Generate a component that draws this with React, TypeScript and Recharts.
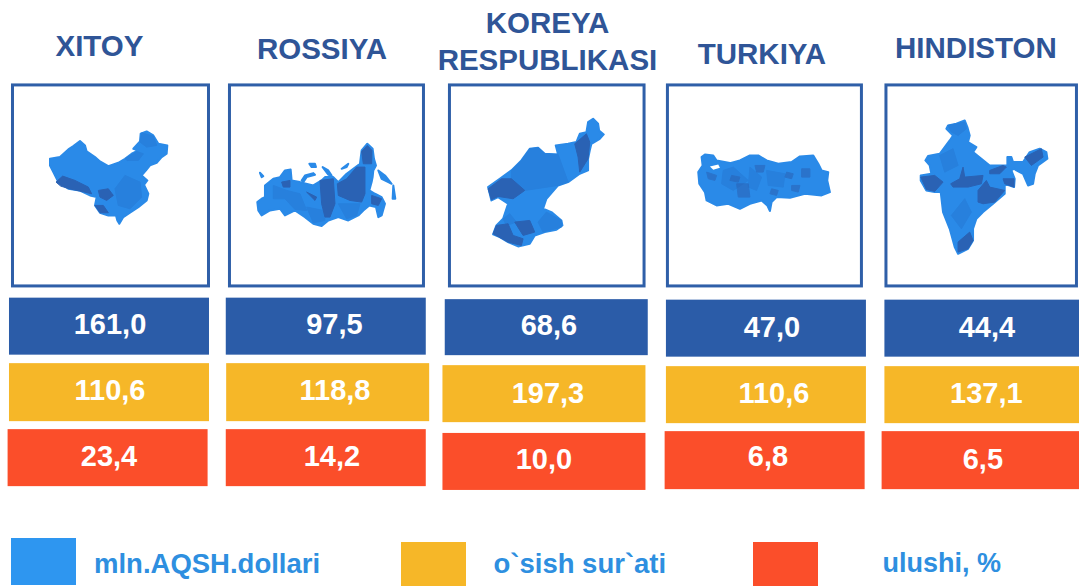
import React from "react";
import { ScatterChart, Scatter, XAxis, YAxis, Legend } from "recharts";

// ---------- values ----------
const countries = ["XITOY", "ROSSIYA", "KOREYA RESPUBLIKASI", "TURKIYA", "HINDISTON"];
const exportsMln = [161.0, 97.5, 68.6, 47.0, 44.4];
const growthRate = [110.6, 118.8, 197.3, 110.6, 137.1];
const sharePct = [23.4, 14.2, 10.0, 6.8, 6.5];
const legendNames = ["mln.AQSH.dollari", "o`sish sur`ati", "ulushi, %"];

// ---------- style ----------
const FONT = '"Liberation Sans", Arial, sans-serif';
const TILE_COLORS = ["#2b5ca8", "#f6b728", "#fb4e2a"];
const LEGEND_COLORS = ["#2e96f0", "#f6b728", "#fb4e2a"];
const TITLE_COLOR = "#2f5597";
const LEGEND_TEXT = "#2e8fe0";
const FRAME_COLOR = "#2f5fa8";
const MAP_LIGHT = "#2a8ae8";
const MAP_MID = "#2780dd";
const MAP_DARK = "#2a62b4";

// ---------- row positions on the y axis ----------
const MAP_ROW = -2.14;
const TITLE_ROW = -4.2;

// ---------- small per-cell nudges, relative to the scale position ----------
// [dx, dy, width, height, labelDx, labelDy]
const tileNudges = [
  [
    [0, -0.5, 200, 57, 1, -2],
    [-1.2, -0.5, 200, 57, 8.7, -2],
    [1.3, 0.5, 203, 56, 2.7, -2],
    [3, 1.5, 200, 57, 6, -1],
    [3.5, 1.5, 200, 57, 2.5, -1],
  ],
  [
    [0, -0.5, 200, 58, 1, -2],
    [0.7, -0.5, 203, 58, 7.3, -2],
    [-1, 1, 203, 57, 4, -1],
    [3, 2, 200, 57, 8, -1.5],
    [3.5, 2, 200, 57, 2, -1.5],
  ],
  [
    [-1.4, -1, 200, 57, 1.4, -1.5],
    [-1.2, -1, 200, 57, 6.2, -1.5],
    [-1, 2.8, 203, 57, 0, -2.5],
    [1.7, 1.5, 200, 58, 3.3, -4],
    [0.7, 1.5, 200, 58, 1.3, -1],
  ],
];
// [dx, dy, outerWidth, outerHeight]
const frameNudges = [
  [1.5, 0, 199, 204],
  [-0.5, 0, 197, 204],
  [1.8, 0, 197.6, 204],
  [1.5, 0, 197, 204],
  [0.3, 0, 193.5, 204],
];
// [dx, dy] for each title line block, relative to the scale position
const titleNudges = [
  [-9.5, -3.5],
  [-5, -0.5],
  [2.5, -8],
  [-1, 5],
  [-5, -1],
];

// ---------- map outlines, drawn at 3x around each map's own origin ----------
// [origin dx, origin dy] of the drawing relative to the frame centre
const mapOrigins = [
  [-70.5, -60],
  [-76.5, -50],
  [-67, -75],
  [-74.5, -45],
  [-66.5, -70],
];
const mapDarkOpacity = [1, 1, 1, 0.55, 1];
const mapBase = [
  ["M30,100 60,95 85,72 100,62 120,47 135,60 140,78 165,95 180,108 205,122 235,112 255,100 275,85 295,75 280,70 300,48 302,25 320,18 340,30 355,55 382,60 380,85 365,95 350,112 330,120 318,135 305,150 322,165 312,178 325,205 320,225 295,245 270,262 250,275 238,295 232,285 228,270 205,270 180,262 165,240 170,215 150,210 118,195 85,190 55,170 40,140 30,120Z"],
  [
    "M22,200 35,190 45,185 45,150 70,130 90,125 105,105 122,102 125,135 150,140 190,150 215,135 225,125 250,125 265,140 290,115 310,100 330,85 335,45 352,25 368,40 372,70 378,90 370,105 368,125 365,140 358,165 375,175 395,185 405,205 395,240 385,245 378,215 358,210 340,225 325,240 295,255 265,245 235,255 215,272 190,265 165,245 135,225 105,240 90,220 60,225 35,240 25,225Z",
    "M385,105 405,120 425,145 415,140 395,130Z",
    "M430,150 436,190 428,190Z",
    "M155,135 165,120 190,113 195,118 170,125 160,140Z",
    "M178,85 195,85 198,95 185,95Z",
    "M218,95 235,105 245,120 235,118Z",
    "M275,100 295,85 290,95Z",
    "M30,112 40,122 35,125Z",
  ],
  ["M25,230 60,205 95,180 125,150 150,115 175,112 195,130 235,132 228,105 265,100 290,95 300,70 320,65 325,35 340,25 355,40 358,60 372,72 360,85 335,100 330,120 325,145 325,180 300,190 265,215 235,225 200,265 190,295 215,305 245,330 248,345 230,358 195,365 165,375 150,400 115,408 85,395 60,380 40,372 50,345 70,325 85,280 55,260 35,270 30,250Z"],
  ["M25,95 38,75 35,50 45,42 70,45 80,60 120,68 150,60 180,45 205,45 230,60 265,70 305,65 330,48 370,45 385,70 395,90 415,95 412,120 420,155 395,165 345,160 300,172 260,170 245,185 240,212 232,195 215,180 180,190 150,205 115,190 80,195 50,180 45,155 28,130Z"],
  ["M100,30 125,25 150,15 158,35 165,60 160,80 185,95 175,110 200,130 225,150 265,150 278,150 278,125 290,125 295,140 325,140 345,110 375,100 395,110 398,130 370,150 360,175 355,205 340,210 325,175 305,165 298,160 290,165 300,190 298,215 270,205 270,235 235,265 205,290 185,310 175,340 175,375 160,400 130,415 120,395 105,340 85,290 78,230 60,230 35,225 18,195 18,180 50,175 45,150 32,135 40,122 75,115 105,75 115,60 95,40Z"],
];
const mapMid = [
  ["M255,150 300,170 305,215 270,250 235,240 225,190Z", "M255,100 290,78 310,85 295,105 262,105Z", "M305,22 340,32 350,60 320,65 300,50Z"],
  ["M70,150 110,165 150,175 170,225 135,222 105,190 70,190Z", "M170,215 220,225 225,255 190,262Z", "M265,205 330,205 320,240 290,250Z"],
  ["M95,180 125,150 150,115 175,112 195,130 235,132 265,215 235,225 135,240 95,205Z", "M70,325 90,310 110,335 80,345Z", "M200,305 245,330 245,350 190,365 175,335Z"],
  ["M100,90 130,80 175,120 130,150 95,130Z", "M230,90 285,100 280,140 235,135Z", "M180,80 215,110 200,150 175,140Z"],
  ["M100,30 125,25 150,20 155,40 130,60 110,50Z", "M75,120 115,100 130,150 90,170Z", "M110,300 150,250 170,290 140,340Z"],
];
const mapDark = [
  ["M48,170 68,152 105,165 145,185 155,205 120,197 88,190 62,182Z", "M175,195 205,190 220,210 200,225 180,215Z", "M165,240 190,240 205,262 180,262Z"],
  ["M210,135 250,130 255,205 240,245 225,245 215,205Z", "M262,145 290,130 320,95 345,95 345,175 335,200 300,195 265,180Z", "M335,48 352,30 366,45 365,85 340,85Z", "M170,170 200,185 195,195Z", "M95,140 120,135 120,155 100,155Z", "M365,180 395,190 385,210 365,205Z"],
  ["M25,235 65,205 95,205 135,240 100,265 55,258 35,268Z", "M285,100 320,70 330,95 325,145 300,185 295,140Z", "M50,345 85,340 100,375 130,385 125,405 85,395 40,370Z", "M105,335 150,330 165,365 130,375Z"],
  ["M140,130 175,130 180,170 145,170Z", "M50,95 80,105 75,120 55,115Z", "M195,75 225,75 220,95 200,95Z", "M335,85 360,85 360,110 335,110Z", "M290,95 310,100 305,115 285,110Z", "M125,105 150,110 145,125 120,120Z", "M245,145 265,150 260,165 240,160Z", "M305,135 330,135 325,155 305,150Z"],
  ["M18,185 60,180 85,200 60,228 35,222Z", "M108,205 135,190 145,155 150,185 205,180 200,205 160,215 115,215Z", "M190,225 215,195 225,215 270,225 240,260 205,265 190,260Z", "M225,165 265,150 275,155 255,175 225,175Z", "M265,190 298,190 298,215 270,205Z", "M130,380 165,350 175,375 160,400 130,410Z", "M330,125 380,100 385,125 350,150Z"],
];
const mapHoles = [[], [], [], ["M60,78 85,72 90,82 70,88Z"], []];

const rows = [exportsMln, growthRate, sharePct];

const formatValue = (v: number) => v.toFixed(1).replace(".", ",");

const valueTable = (values: number[], row: number) =>
  values.map((value, col) => ({ col, row, value }));
const frameTable = countries.map((name, col) => ({ col, row: MAP_ROW, name }));
const titleTable = countries.map((name, col) => ({ col, row: TITLE_ROW, name }));

const Tile = (row: number) => (props: any) => {
  const { cx, cy, payload } = props;
  const [dx, dy, w, h, ldx, ldy] = tileNudges[row][payload.col];
  const mx = cx + dx;
  const my = cy + dy;
  return (
    <g>
      <rect x={mx - w / 2} y={my - h / 2} width={w} height={h} fill={TILE_COLORS[row]} />
      <text
        x={mx + ldx}
        y={my + ldy + 10}
        textAnchor="middle"
        fontFamily={FONT}
        fontWeight="bold"
        fontSize={29}
        fill="#ffffff"
      >
        {formatValue(payload.value)}
      </text>
    </g>
  );
};

const FrameAndMap = (props: any) => {
  const { cx, cy, payload } = props;
  const c = payload.col;
  const [dx, dy, w, h] = frameNudges[c];
  const fx = cx + dx;
  const fy = cy + dy;
  const [ox, oy] = mapOrigins[c];
  return (
    <g>
      <rect
        x={fx - w / 2 + 1.5}
        y={fy - h / 2 + 1.5}
        width={w - 3}
        height={h - 3}
        fill="#ffffff"
        stroke={FRAME_COLOR}
        strokeWidth={3}
      />
      <g
        transform={`translate(${fx + ox} ${fy + oy}) scale(${1 / 3})`}
        strokeLinejoin="round"
        style={{ filter: "blur(1.5px)" }}
      >
        {mapBase[c].map((d, i) => (
          <path key={i} d={d} fill={MAP_LIGHT} stroke={MAP_LIGHT} strokeWidth={6} />
        ))}
        {mapMid[c].map((d, i) => (
          <path key={i} d={d} fill={MAP_MID} stroke={MAP_MID} strokeWidth={3} />
        ))}
        {mapDark[c].map((d, i) => (
          <path
            key={i}
            d={d}
            fill={MAP_DARK}
            stroke={MAP_DARK}
            strokeWidth={3}
            opacity={mapDarkOpacity[c]}
          />
        ))}
        {mapHoles[c].map((d, i) => (
          <path key={i} d={d} fill="#ffffff" />
        ))}
      </g>
    </g>
  );
};

const Title = (props: any) => {
  const { cx, cy, payload } = props;
  const [dx, dy] = titleNudges[payload.col];
  const words: string[] = payload.name.split(" ");
  const lineHeight = 36.5;
  const top = cy + dy - ((words.length - 1) * lineHeight) / 2;
  return (
    <text
      textAnchor="middle"
      fontFamily={FONT}
      fontWeight="bold"
      fontSize={29.5}
      fill={TITLE_COLOR}
    >
      {words.map((w, i) => (
        <tspan key={w} x={cx + dx} y={top + i * lineHeight + 10}>
          {w}
        </tspan>
      ))}
    </text>
  );
};

// [swatch left, swatch top, swatch width, swatch height, text left, font size]
const legendLayout = [
  [10.5, 538, 65, 47, 94, 27.5],
  [400.5, 542, 65, 48, 493.5, 27.5],
  [753, 542, 65, 48, 882.5, 27],
];

const LegendBox = (props: any) => {
  const items = (props.payload || []).filter((p: any) => legendNames.includes(p.value));
  return (
    <div style={{ position: "relative", width: 0, height: 0 }}>
      {items.map((item: any, i: number) => {
        const [l, t, w, h, tx, fs] = legendLayout[i];
        return (
          <React.Fragment key={item.value}>
            <div
              style={{
                position: "absolute",
                left: l,
                top: t,
                width: w,
                height: h,
                background: item.color,
              }}
            />
            <div
              style={{
                position: "absolute",
                left: tx,
                top: 547,
                fontFamily: FONT,
                fontWeight: "bold",
                fontSize: fs,
                lineHeight: "33px",
                whiteSpace: "nowrap",
                color: LEGEND_TEXT,
              }}
            >
              {item.value}
            </div>
          </React.Fragment>
        );
      })}
    </div>
  );
};

export default function App() {
  return (
    <div style={{ position: "absolute", left: 0, top: 0, width: 1079, height: 586, overflow: "hidden", background: "#fff" }}>
      <ScatterChart width={1079} height={586} margin={{ top: 0, right: 0, bottom: 0, left: 0 }}>
        <XAxis type="number" dataKey="col" domain={[-0.5, 4.45]} hide />
        <YAxis type="number" dataKey="row" domain={[-4.95, 3.93]} reversed hide />
        <Legend
          content={LegendBox}
          wrapperStyle={{ left: 0, top: 0, width: 0, height: 0 }}
        />
        <Scatter name="titles" legendType="none" data={titleTable} shape={Title} isAnimationActive={false} />
        <Scatter name="frames" legendType="none" data={frameTable} shape={FrameAndMap} isAnimationActive={false} />
        {rows.map((values, r) => (
          <Scatter
            key={legendNames[r]}
            name={legendNames[r]}
            data={valueTable(values, r)}
            fill={LEGEND_COLORS[r]}
            shape={Tile(r)}
            isAnimationActive={false}
          />
        ))}
      </ScatterChart>
    </div>
  );
}
